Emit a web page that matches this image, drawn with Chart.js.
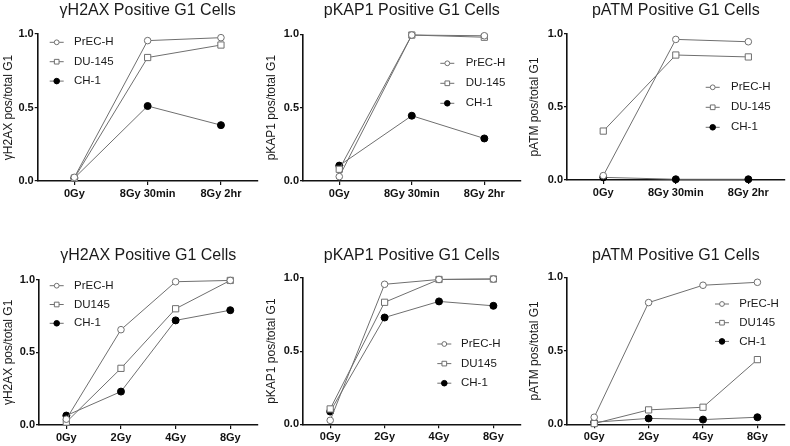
<!DOCTYPE html>
<html><head><meta charset="utf-8">
<script src="https://cdn.jsdelivr.net/npm/chart.js@4/dist/chart.umd.min.js"></script>
<style>
html,body{margin:0;padding:0;background:#fff;}
#wrap{position:relative;width:790px;height:446px;overflow:hidden;background:#fff;}
.p{position:absolute;}
</style></head><body><div id="wrap"></div>
<script>
// ---- data ----
const seriesNamesTime = ['PrEC-H', 'DU-145', 'CH-1'];
const seriesNamesDose = ['PrEC-H', 'DU145', 'CH-1'];
const timeLabels = ['0Gy', '8Gy 30min', '8Gy 2hr'];
const doseLabels = ['0Gy', '2Gy', '4Gy', '8Gy'];
const yTickValues = [0, 0.5, 1.0];

const h2axTimePrECH = [0.025, 0.955, 0.975];
const h2axTimeDU145 = [0.02, 0.84, 0.925];
const h2axTimeCH1   = [0.02, 0.51, 0.38];
const kap1TimePrECH = [0.03, 0.995, 0.99];
const kap1TimeDU145 = [0.08, 0.995, 0.98];
const kap1TimeCH1   = [0.105, 0.445, 0.29];
const atmTimePrECH  = [0.03, 0.963, 0.947];
const atmTimeDU145  = [0.335, 0.856, 0.843];
const atmTimeCH1    = [0.018, 0.005, 0.005];
const h2axDosePrECH = [0.04, 0.656, 0.986, 0.995];
const h2axDoseDU145 = [0.02, 0.39, 0.80, 0.995];
const h2axDoseCH1   = [0.065, 0.23, 0.72, 0.79];
const kap1DosePrECH = [0.027, 0.957, 0.99, 0.993];
const kap1DoseDU145 = [0.105, 0.834, 0.99, 0.993];
const kap1DoseCH1   = [0.087, 0.73, 0.84, 0.81];
const atmDosePrECH  = [0.048, 0.828, 0.946, 0.966];
const atmDoseDU145  = [0.005, 0.098, 0.116, 0.44];
const atmDoseCH1    = [0.014, 0.04, 0.032, 0.048];

// ---- panel layout ----
const panels = [
  {x:0,   y:0,   w:263, h:223, title:'γH2AX Positive G1 Cells', yTitle:'γH2AX pos/total G1', labels:timeLabels, names:seriesNamesTime,
   data:[h2axTimePrECH,h2axTimeDU145,h2axTimeCH1], top:34, bottom:181, axisX:37.7, right:259, tCenter:10.7,
   legend:{x:56.7, y:42.3, dy:19.4, tx:74}},
  {x:263, y:0,   w:263, h:223, title:'pKAP1 Positive G1 Cells', yTitle:'pKAP1 pos/total G1', labels:timeLabels, names:seriesNamesTime,
   data:[kap1TimePrECH,kap1TimeDU145,kap1TimeCH1], top:34.3, bottom:181, axisX:40, right:259.6, tCenter:10.7,
   legend:{x:184.3, y:63.3, dy:20, tx:202.7}},
  {x:526, y:0,   w:264, h:223, title:'pATM Positive G1 Cells', yTitle:'pATM pos/total G1', labels:timeLabels, names:seriesNamesTime,
   data:[atmTimePrECH,atmTimeDU145,atmTimeCH1], top:34, bottom:180, axisX:41, right:262.4, tCenter:10.7,
   legend:{x:186.7, y:87.3, dy:20, tx:205}},
  {x:0,   y:223, w:263, h:223, title:'γH2AX Positive G1 Cells', yTitle:'γH2AX pos/total G1', labels:doseLabels, names:seriesNamesDose,
   data:[h2axDosePrECH,h2axDoseDU145,h2axDoseCH1], top:56.7, bottom:202, axisX:39, right:260, tCenter:32.3,
   legend:{x:56.7, y:62.7, dy:18.8, tx:74}},
  {x:263, y:223, w:263, h:223, title:'pKAP1 Positive G1 Cells', yTitle:'pKAP1 pos/total G1', labels:doseLabels, names:seriesNamesDose,
   data:[kap1DosePrECH,kap1DoseDU145,kap1DoseCH1], top:55, bottom:201.3, axisX:40, right:260.4, tCenter:32.3,
   legend:{x:181.3, y:121, dy:19.6, tx:198}},
  {x:526, y:223, w:264, h:223, title:'pATM Positive G1 Cells', yTitle:'pATM pos/total G1', labels:doseLabels, names:seriesNamesDose,
   data:[atmDosePrECH,atmDoseDU145,atmDoseCH1], top:54.3, bottom:201.3, axisX:41, right:261.8, tCenter:32.3,
   legend:{x:196, y:81, dy:18.7, tx:213.3}}
];

const FONT = '"Liberation Sans", Arial, Helvetica, sans-serif';
const LINE = '#6f6f6f';
const styles = [
  {pointStyle:'circle', radius:3.3, bg:'#ffffff', border:'#6f6f6f', lr:2.4},
  {pointStyle:'rect',   radius:4.4, bg:'#ffffff', border:'#6f6f6f', lr:3.3},
  {pointStyle:'circle', radius:3.5, bg:'#000000', border:'#000000', lr:2.8}
];

function drawMarker(ctx, st, x, y, r) {
  ctx.beginPath();
  if (st.pointStyle === 'rect') {
    const s = r * Math.SQRT1_2;
    ctx.rect(x - s, y - s, 2 * s, 2 * s);
  } else {
    ctx.arc(x, y, r, 0, Math.PI * 2);
  }
  ctx.fillStyle = st.bg; ctx.fill();
  ctx.lineWidth = 1; ctx.strokeStyle = st.border; ctx.stroke();
}

const legendPlugin = {
  id: 'panelLegend',
  afterDraw(chart, args, opts) {
    const ctx = chart.ctx;
    chart.data.datasets.forEach((ds, i) => {
      const st = styles[i];
      const y = opts.y + i * opts.dy;
      const x = opts.x;
      ctx.save();
      ctx.strokeStyle = LINE; ctx.lineWidth = 1;
      ctx.beginPath(); ctx.moveTo(x - 7, y); ctx.lineTo(x + 7, y); ctx.stroke();
      drawMarker(ctx, st, x, y, st.lr);
      ctx.fillStyle = '#1a1a1a';
      ctx.font = '11.5px ' + FONT;
      ctx.textBaseline = 'middle';
      ctx.textAlign = 'left';
      ctx.fillText(ds.label, opts.tx, y);
      ctx.restore();
    });
  }
};

const wrap = document.getElementById('wrap');
panels.forEach(p => {
  const c = document.createElement('canvas');
  c.className = 'p';
  c.style.left = p.x + 'px'; c.style.top = p.y + 'px';
  c.width = p.w; c.height = p.h;
  c.style.width = p.w + 'px'; c.style.height = p.h + 'px';
  wrap.appendChild(c);
  const titleH = 16 * 1.2;
  const tTop = p.tCenter - titleH / 2;
  const tBottom = p.top - tTop - titleH;
  new Chart(c.getContext('2d'), {
    type: 'line',
    data: {
      labels: p.labels,
      datasets: p.data.map((d, i) => ({
        label: p.names[i],
        data: d,
        borderColor: LINE,
        borderWidth: 1,
        pointStyle: styles[i].pointStyle,
        pointRadius: styles[i].radius,
        pointBackgroundColor: styles[i].bg,
        pointBorderColor: styles[i].border,
        pointBorderWidth: 1,
        tension: 0,
        clip: false
      }))
    },
    options: {
      responsive: false,
      animation: false,
      devicePixelRatio: 1,
      layout: {padding: {left: 0, top: 0, right: p.w - p.right, bottom: 0}},
      plugins: {
        legend: {display: false},
        tooltip: {enabled: false},
        title: {
          display: true, text: p.title, fullSize: false,
          color: '#1a1a1a', font: {family: FONT, size: 16, weight: 'normal'},
          padding: {top: tTop, bottom: tBottom}
        },
        panelLegend: p.legend
      },
      scales: {
        x: {
          type: 'category', offset: true,
          grid: {display: true, drawOnChartArea: false, drawTicks: true, tickLength: 4, offset: false, color: '#111', lineWidth: 1.2},
          border: {display: true, color: '#111', width: 1.6},
          ticks: {color: '#111', font: {family: FONT, size: 11, weight: 'bold'}, padding: 2, maxRotation: 0, autoSkip: false},
          afterFit: s => { s.height = p.h - p.bottom; }
        },
        y: {
          min: 0, max: 1,
          grid: {display: true, drawOnChartArea: false, drawTicks: true, tickLength: 3, color: '#111', lineWidth: 1.2},
          border: {display: true, color: '#111', width: 1.6},
          ticks: {color: '#111', font: {family: FONT, size: 11, weight: 'bold'}, padding: 1, callback: v => Number(v).toFixed(1)},
          afterBuildTicks: s => { s.ticks = yTickValues.map(v => ({value: v})); },
          title: {display: true, text: p.yTitle, color: '#1a1a1a', font: {family: FONT, size: 12, weight: 'normal'}, padding: {top: 1, bottom: 0}},
          afterFit: s => { s.width = p.axisX; }
        }
      }
    },
    plugins: [legendPlugin]
  });
});
</script>
</body></html>
